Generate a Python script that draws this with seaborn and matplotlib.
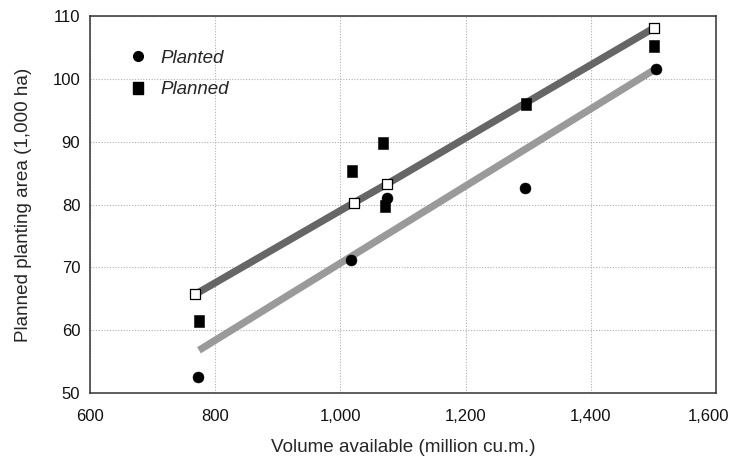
import matplotlib
matplotlib.use("Agg")
import matplotlib.pyplot as plt
from matplotlib.lines import Line2D
from matplotlib.transforms import ScaledTranslation
import pandas as pd
import seaborn as sns

# values
planted_volume = [772, 1017, 1075, 1295, 1504]
planted_area = [52.5, 71.1, 81.0, 82.7, 101.5]

planned_volume = [774, 1018, 1068, 1072, 1296, 1501]
planned_area = [61.4, 85.4, 89.8, 79.8, 96.0, 105.3]

fitted_volume = [768, 1022, 1075, 1501]
fitted_area = [65.7, 80.3, 83.3, 108.1]

planted_trend_volume = [774, 1499]
planted_trend_area = [56.8, 101.3]

x_ticks = [600, 800, 1000, 1200, 1400, 1600]
x_tick_labels = ["600", "800", "1,000", "1,200", "1,400", "1,600"]
y_ticks = [50, 60, 70, 80, 90, 100, 110]

planted = pd.DataFrame({"volume": planted_volume, "area": planted_area})
planned = pd.DataFrame({"volume": planned_volume, "area": planned_area})
fitted = pd.DataFrame({"volume": fitted_volume, "area": fitted_area})
trend = pd.DataFrame({"volume": planted_trend_volume, "area": planted_trend_area})

sns.set_style("white")
plt.rcParams["font.family"] = ["Liberation Sans", "DejaVu Sans"]

rect = [(-0.37, -0.5), (0.37, -0.5), (0.37, 0.5), (-0.37, 0.5), (-0.37, -0.5)]

fig = plt.figure(figsize=(7.33, 4.57), dpi=100)
ax = fig.add_axes([0.1228, 0.140, 0.8540, 0.825])

sns.lineplot(data=trend, x="volume", y="area", ax=ax, color="#9a9a9a",
             linewidth=5.2, solid_capstyle="butt", zorder=2)
sns.lineplot(data=fitted, x="volume", y="area", ax=ax, color="#666666",
             linewidth=5.2, solid_capstyle="butt", zorder=2)

sns.scatterplot(data=fitted, x="volume", y="area", ax=ax, marker="s", s=62,
                color="white", edgecolor="black", linewidth=0.9, zorder=3)
sns.scatterplot(data=planned, x="volume", y="area", ax=ax, marker=rect, s=78,
                color="black", edgecolor="black", linewidth=0.4, zorder=4)
sns.scatterplot(data=planted, x="volume", y="area", ax=ax, marker="o", s=62,
                color="black", edgecolor="black", linewidth=0.4, zorder=4)

ax.set_xlim(600, 1600)
ax.set_ylim(50, 110)
ax.set_xticks(x_ticks)
ax.set_xticklabels(x_tick_labels[:-1] + [""])
ax.set_yticks(y_ticks)
ax.grid(True, linestyle=(0, (1, 1.5)), color="#b0b0b0", linewidth=0.8)
ax.set_axisbelow(True)
ax.tick_params(length=0, labelsize=12, colors="#111111")
ax.tick_params(axis="x", pad=11.5)
ax.tick_params(axis="y", pad=7)
for sp in ax.spines.values():
    sp.set_color("#333333")
    sp.set_linewidth(1.1)

# last x label nudged so it stays inside the figure, as in the original
ax.text(x_ticks[-1], 0, x_tick_labels[-1], fontsize=12, color="#111111",
        ha="right", va="top",
        transform=ax.get_xaxis_transform()
        + ScaledTranslation(0.13, -16 / 100, fig.dpi_scale_trans))

ax.set_xlabel("Volume available (million cu.m.)", fontsize=13.6, labelpad=11)
ax.set_ylabel("Planned planting area (1,000 ha)", fontsize=13.6, labelpad=14.5)

handles = [
    Line2D([], [], linestyle="none", marker="o", markersize=7, color="black"),
    Line2D([], [], linestyle="none", marker=rect, markersize=9, color="black"),
]
ax.legend(handles, ["Planted", "Planned"], loc="upper left",
          bbox_to_anchor=(0.02, 0.955), frameon=False, handletextpad=0.2,
          labelspacing=0.75, prop={"style": "italic", "size": 13.5})

fig.savefig("out.png", dpi=100)
